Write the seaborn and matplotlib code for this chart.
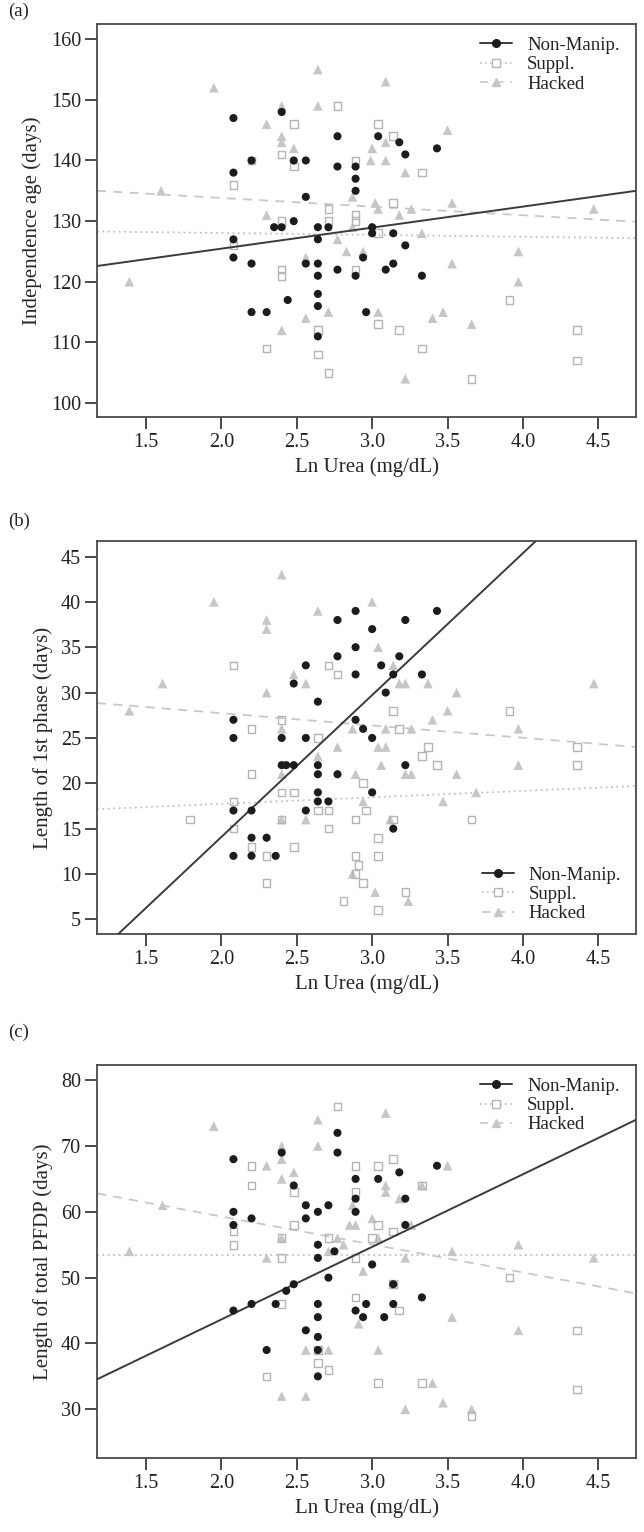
import matplotlib
matplotlib.use("Agg")
import matplotlib.pyplot as plt
from matplotlib.lines import Line2D
import seaborn as sns
import pandas as pd

# ---------------- data: panel (a) Independence age ----------------
a_nm_x = [2.08, 2.08, 2.20, 2.40, 2.48, 2.56, 2.56, 2.77, 2.77, 2.89, 2.89, 2.89, 2.35, 2.40, 2.48,
          2.64, 2.71, 2.64, 2.08, 3.04, 3.18, 3.22, 3.43, 3.00, 3.00, 3.14, 3.22, 2.08, 2.20, 2.20,
          2.30, 2.44, 2.56, 2.64, 2.64, 2.64, 2.64, 2.64, 2.77, 2.89, 2.94, 3.14, 3.09, 3.33, 2.96]
a_nm_y = [147, 138, 140, 148, 140, 140, 134, 144, 139, 139, 137, 135, 129, 129, 130,
          129, 129, 127, 127, 144, 143, 141, 142, 129, 128, 128, 126, 124, 123, 115,
          115, 117, 123, 123, 121, 118, 116, 111, 122, 121, 124, 123, 122, 121, 115]
a_su_x = [2.08, 2.20, 2.40, 2.48, 2.48, 2.77, 2.89, 2.71, 2.40, 2.71, 2.89, 2.89, 3.04, 3.14, 3.33,
          3.14, 3.04, 2.08, 2.40, 2.40, 2.64, 2.64, 2.30, 2.71, 2.89, 3.04, 3.18, 3.91, 3.33, 3.66,
          4.36, 4.36]
a_su_y = [136, 140, 141, 146, 139, 149, 140, 132, 130, 130, 131, 130, 146, 144, 138,
          133, 128, 126, 122, 121, 112, 108, 109, 105, 122, 113, 112, 117, 109, 104,
          112, 107]
a_ha_x = [1.95, 1.60, 2.30, 2.40, 2.40, 2.40, 2.48, 2.64, 2.64, 3.09, 3.50, 3.00, 2.99, 3.09, 3.09,
          3.22, 2.87, 3.02, 3.04, 3.18, 3.26, 3.53, 4.47, 2.30, 2.77, 2.87, 3.33, 1.39, 2.56, 2.56,
          2.40, 2.71, 2.83, 2.94, 3.04, 3.40, 3.47, 3.53, 3.97, 3.97, 3.66, 3.22]
a_ha_y = [152, 135, 146, 149, 144, 143, 142, 155, 149, 153, 145, 142, 140, 140, 143,
          138, 134, 133, 132, 131, 132, 133, 132, 131, 127, 129, 128, 120, 124, 114,
          112, 115, 125, 125, 115, 114, 115, 123, 125, 120, 113, 104]

# ---------------- data: panel (b) Length of 1st phase ----------------
b_nm_x = [2.77, 2.89, 2.89, 2.77, 2.56, 2.48, 2.64, 2.08, 2.08, 2.40, 2.56, 2.89, 2.89, 3.00, 3.22,
          3.43, 3.18, 3.06, 3.14, 3.33, 3.09, 2.94, 3.00, 2.40, 2.43, 2.48, 2.64, 2.64, 2.77, 2.64,
          2.64, 2.71, 2.08, 2.20, 2.56, 2.20, 2.30, 2.08, 2.20, 2.36, 3.22, 3.00, 3.14]
b_nm_y = [38, 39, 35, 34, 33, 31, 29, 27, 25, 25, 25, 27, 32, 37, 38,
          39, 34, 33, 32, 32, 30, 26, 25, 22, 22, 22, 22, 21, 21, 19,
          18, 18, 17, 17, 17, 14, 14, 12, 12, 12, 22, 19, 15]
b_su_x = [2.08, 2.71, 2.77, 2.20, 2.40, 2.64, 3.14, 3.91, 3.18, 3.37, 4.36, 3.33, 3.43, 4.36, 2.20,
          2.40, 2.48, 2.08, 2.64, 2.71, 2.40, 1.79, 2.89, 2.08, 2.71, 2.20, 2.48, 2.30, 2.89, 2.30,
          2.81, 2.94, 2.96, 3.14, 3.66, 3.04, 3.04, 2.91, 2.89, 2.94, 3.22, 3.04]
b_su_y = [33, 33, 32, 26, 27, 25, 28, 28, 26, 24, 24, 23, 22, 22, 21,
          19, 19, 18, 17, 17, 16, 16, 16, 15, 15, 13, 13, 12, 12, 9,
          7, 20, 17, 16, 16, 14, 12, 11, 10, 9, 8, 6]
b_ha_x = [2.40, 1.95, 2.30, 2.30, 2.64, 2.48, 2.56, 1.61, 1.39, 2.30, 2.40, 2.77, 2.87, 3.00, 3.04,
          3.14, 3.18, 3.22, 3.37, 4.47, 3.56, 3.50, 3.40, 3.97, 3.09, 3.26, 3.04, 3.09, 2.64, 2.40,
          2.89, 2.56, 2.40, 2.87, 3.06, 3.22, 3.26, 3.56, 3.97, 2.94, 3.47, 3.69, 3.12, 3.02, 3.24]
b_ha_y = [43, 40, 38, 37, 39, 32, 31, 31, 28, 30, 26, 24, 26, 40, 35,
          33, 31, 31, 31, 31, 30, 28, 27, 26, 26, 26, 24, 24, 23, 21,
          21, 16, 16, 10, 22, 21, 21, 21, 22, 18, 18, 19, 16, 8, 7]

# ---------------- data: panel (c) Length of total PFDP ----------------
c_nm_x = [2.77, 2.77, 2.40, 2.08, 2.48, 2.56, 2.56, 2.64, 2.71, 2.08, 2.08, 2.20, 2.89, 2.89, 2.89,
          2.64, 2.75, 2.64, 3.43, 3.04, 3.18, 3.22, 3.22, 2.71, 2.48, 2.43, 2.36, 2.20, 2.08, 2.64,
          2.64, 2.64, 2.64, 2.64, 2.56, 2.30, 2.89, 3.00, 3.14, 3.33, 2.96, 3.14, 2.94, 3.08]
c_nm_y = [72, 69, 69, 68, 64, 61, 59, 60, 61, 60, 58, 59, 65, 62, 60,
          55, 54, 53, 67, 65, 66, 62, 58, 50, 49, 48, 46, 46, 45, 46,
          44, 41, 39, 35, 42, 39, 45, 52, 49, 47, 46, 46, 44, 44]
c_su_x = [2.77, 2.20, 2.20, 2.48, 2.08, 2.08, 2.48, 2.40, 2.89, 2.89, 2.71, 2.40, 3.14, 3.04, 3.33,
          3.04, 3.14, 3.00, 2.40, 2.64, 2.64, 2.71, 2.30, 2.89, 2.89, 3.91, 3.14, 3.18, 4.36, 3.04,
          3.33, 4.36, 3.66]
c_su_y = [76, 67, 64, 63, 57, 55, 58, 56, 67, 63, 56, 53, 68, 67, 64,
          58, 57, 56, 46, 39, 37, 36, 35, 47, 53, 50, 49, 45, 42, 34,
          34, 33, 29]
c_ha_x = [1.95, 2.64, 2.64, 2.40, 2.40, 2.30, 2.48, 2.40, 1.61, 2.87, 2.85, 2.89, 2.77, 2.81, 2.71,
          1.39, 2.30, 3.09, 3.50, 3.33, 3.09, 3.09, 3.18, 3.00, 3.26, 3.04, 3.53, 3.97, 4.47, 3.22,
          2.40, 2.94, 3.53, 3.97, 2.91, 2.56, 2.71, 3.04, 2.40, 2.56, 3.22, 3.47, 3.66, 3.40]
c_ha_y = [73, 74, 70, 70, 68, 67, 66, 65, 61, 61, 58, 58, 56, 55, 54,
          54, 53, 75, 67, 64, 64, 63, 62, 59, 58, 56, 54, 55, 53, 53,
          56, 51, 44, 42, 43, 39, 39, 39, 32, 32, 30, 31, 30, 34]

# fitted regression lines, values read at the two x-limits
fit_x = [1.175, 4.75]
a_fit = {"Non-Manip.": [122.6, 135.0], "Suppl.": [128.3, 127.2], "Hacked": [135.0, 129.9]}
b_fit = {"Non-Manip.": [1.18, 57.1], "Suppl.": [17.15, 19.7], "Hacked": [28.85, 24.0]}
c_fit = {"Non-Manip.": [34.55, 73.98], "Suppl.": [53.5, 53.5], "Hacked": [62.8, 47.6]}

groups = ["Non-Manip.", "Suppl.", "Hacked"]
x_ticks = [1.5, 2.0, 2.5, 3.0, 3.5, 4.0, 4.5]
a_yticks = [100, 110, 120, 130, 140, 150, 160]
b_yticks = [5, 10, 15, 20, 25, 30, 35, 40, 45]
c_yticks = [30, 40, 50, 60, 70, 80]
panel_letters = ["(a)", "(b)", "(c)"]
y_labels = ["Independence age (days)", "Length of 1st phase (days)", "Length of total PFDP (days)"]
x_label = "Ln Urea (mg/dL)"

# ---------------- styling ----------------
sns.set_theme(style="ticks")
plt.rcParams["font.family"] = ["Liberation Serif", "DejaVu Serif"]

C_NM = "#1c1c1c"
C_SU = "#b4b4b4"
C_HA = "#c6c6c6"
C_NM_LINE = "#3a3a3a"
SPINE = "#4a4a4a"

style = {
    "Non-Manip.": dict(marker="o", line="-", lc=C_NM_LINE, lw=1.4),
    "Suppl.": dict(marker="s", line=(0, (1, 2)), lc="#c0c0c0", lw=1.3),
    "Hacked": dict(marker="^", line=(0, (5, 4)), lc="#c8c8c8", lw=1.3),
}

fig = plt.figure(figsize=(6.44, 15.32), dpi=100)
L, W, H = 0.1506, 0.837, 0.2565
bottoms = [0.7278, 0.3903, 0.0483]
ylims = [(97.7, 162.5), (3.38, 46.7), (22.6, 82.3)]
yticks_all = [a_yticks, b_yticks, c_yticks]
letter_y = [0.9925, 0.6595, 0.326]

datasets = [
    (a_nm_x, a_nm_y, a_su_x, a_su_y, a_ha_x, a_ha_y, a_fit),
    (b_nm_x, b_nm_y, b_su_x, b_su_y, b_ha_x, b_ha_y, b_fit),
    (c_nm_x, c_nm_y, c_su_x, c_su_y, c_ha_x, c_ha_y, c_fit),
]

for i, (nx, ny, sx, sy, hx, hy, fit) in enumerate(datasets):
    ax = fig.add_axes([L, bottoms[i], W, H])
    # fit lines (beneath points)
    for g in ["Suppl.", "Hacked", "Non-Manip."]:
        st = style[g]
        fdf = pd.DataFrame({"x": fit_x, "y": fit[g]})
        ax.plot(fdf["x"], fdf["y"], color=st["lc"], lw=st["lw"], linestyle=st["line"],
                zorder=1 if g != "Non-Manip." else 4)
    dh = pd.DataFrame({"x": hx, "y": hy})
    ds = pd.DataFrame({"x": sx, "y": sy})
    dn = pd.DataFrame({"x": nx, "y": ny})
    sns.scatterplot(data=dh, x="x", y="y", ax=ax, marker="^", s=48, color=C_HA,
                    edgecolor="none", linewidth=0, zorder=2)
    sns.scatterplot(data=ds, x="x", y="y", ax=ax, marker="s", s=30, facecolor="none",
                    edgecolor=C_SU, linewidth=1.0, zorder=3)
    sns.scatterplot(data=dn, x="x", y="y", ax=ax, marker="o", s=34, color=C_NM,
                    edgecolor="none", linewidth=0, zorder=5)

    ax.set_xlim(fit_x[0], fit_x[1])
    ax.set_ylim(*ylims[i])
    ax.set_xticks(x_ticks)
    ax.set_xticklabels([f"{v:.1f}" for v in x_ticks])
    ax.set_yticks(yticks_all[i])
    ax.set_xlabel(x_label, fontsize=15, labelpad=4)
    ax.set_ylabel(y_labels[i], fontsize=15, labelpad=6)
    ax.tick_params(axis="both", direction="out", length=8.5, width=1.4, color=SPINE,
                   labelsize=14.5, labelcolor="#222222", pad=3)
    for sp in ax.spines.values():
        sp.set_color(SPINE)
        sp.set_linewidth(1.3)
        sp.set_visible(True)

    handles = []
    for g in groups:
        st = style[g]
        if g == "Non-Manip.":
            h = Line2D([0], [0], color=st["lc"], lw=1.4, linestyle=st["line"], marker="o",
                       markersize=5.5, markerfacecolor=C_NM, markeredgecolor=C_NM)
        elif g == "Suppl.":
            h = Line2D([0], [0], color=st["lc"], lw=1.2, linestyle=st["line"], marker="s",
                       markersize=5.5, markerfacecolor="white", markeredgecolor=C_SU)
        else:
            h = Line2D([0], [0], color=st["lc"], lw=1.2, linestyle=st["line"], marker="^",
                       markersize=6, markerfacecolor=C_HA, markeredgecolor=C_HA)
        handles.append(h)
    if i == 1:
        leg = ax.legend(handles, groups, loc="lower left", bbox_to_anchor=(0.714, 0.03),
                        frameon=False, fontsize=13.5, handlelength=1.7, handletextpad=0.8,
                        labelspacing=0.12, borderpad=0, borderaxespad=0)
    else:
        leg = ax.legend(handles, groups, loc="upper left", bbox_to_anchor=(0.711, 0.968),
                        frameon=False, fontsize=13.5, handlelength=1.7, handletextpad=0.8,
                        labelspacing=0.12, borderpad=0, borderaxespad=0)
    for t in leg.get_texts():
        t.set_color("#222222")
    fig.text(0.012, letter_y[i], panel_letters[i], fontsize=13.5, ha="left", va="center",
             color="#222222")

fig.savefig("out.png", dpi=100, facecolor="white")
